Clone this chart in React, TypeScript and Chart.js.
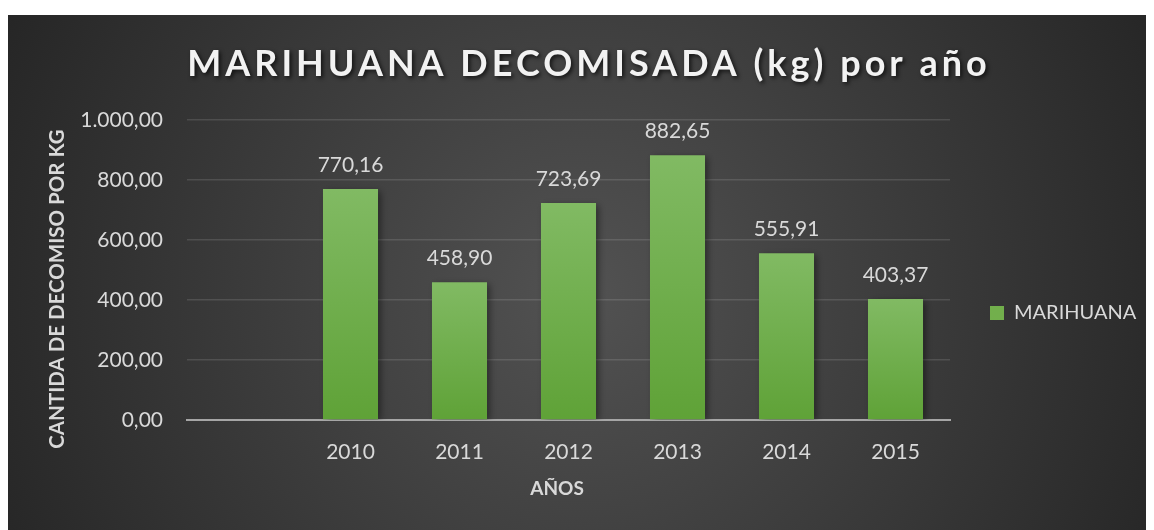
import { useEffect, useRef } from "react";
import { Chart, registerables } from "chart.js";

Chart.register(...registerables);

const categories = ["", "2010", "2011", "2012", "2013", "2014", "2015"];
const marihuana: (number | null)[] = [null, 770.16, 458.9, 723.69, 882.65, 555.91, 403.37];
const yMin = 0;
const yMax = 1000;
const yStep = 200;
const seriesName = "MARIHUANA";
const titleText = "MARIHUANA DECOMISADA (kg) por año";
const yTitleText = "CANTIDA DE DECOMISO POR KG";
const xTitleText = "AÑOS";

const FONT = "Lato";
const TEXT = "#d9d9d9";

const fmt = (v: number) =>
  v.toLocaleString("de-DE", { minimumFractionDigits: 2, maximumFractionDigits: 2 });

const backgroundPlugin = {
  id: "bg",
  beforeDraw(chart: any) {
    const { ctx, width, height } = chart;
    ctx.save();
    const g = ctx.createRadialGradient(575, 280, 0, 575, 280, 640);
    g.addColorStop(0, "#525252");
    g.addColorStop(1, "#262626");
    ctx.fillStyle = g;
    ctx.fillRect(0, 0, width, height);
    ctx.restore();
  },
};

const decorPlugin = {
  id: "decor",
  beforeDatasetsDraw(chart: any) {
    const ctx = chart.ctx;
    ctx.save();
    ctx.shadowColor = "rgba(0,0,0,0.45)";
    ctx.shadowBlur = 7;
    ctx.shadowOffsetX = 3;
    ctx.shadowOffsetY = 2;
  },
  afterDatasetsDraw(chart: any) {
    const ctx = chart.ctx;
    ctx.restore();
    const meta = chart.getDatasetMeta(0);
    ctx.save();
    ctx.fillStyle = TEXT;
    ctx.font = `21px ${FONT}`;
    ctx.textAlign = "center";
    ctx.textBaseline = "alphabetic";
    meta.data.forEach((el: any, i: number) => {
      const v = marihuana[i];
      if (v == null) return;
      ctx.fillText(fmt(v), el.x, el.y - 17);
    });
    ctx.restore();
  },
  afterDraw(chart: any) {
    const ctx = chart.ctx;
    ctx.save();
    ctx.font = `bold 36px ${FONT}`;
    (ctx as any).letterSpacing = "4px";
    ctx.textAlign = "center";
    ctx.textBaseline = "alphabetic";
    ctx.shadowColor = "rgba(0,0,0,0.7)";
    ctx.shadowBlur = 4;
    ctx.shadowOffsetX = 2;
    ctx.shadowOffsetY = 2;
    ctx.fillStyle = "#f2f2f2";
    ctx.fillText(titleText, 581, 61);
    ctx.restore();

    ctx.save();
    ctx.font = `bold 20.5px ${FONT}`;
    ctx.fillStyle = TEXT;
    ctx.textAlign = "center";
    ctx.textBaseline = "middle";
    ctx.translate(49, 274);
    ctx.rotate(-Math.PI / 2);
    ctx.fillText(yTitleText, 0, 0);
    ctx.restore();

    ctx.save();
    ctx.font = `bold 19px ${FONT}`;
    ctx.fillStyle = TEXT;
    ctx.textAlign = "center";
    ctx.textBaseline = "alphabetic";
    ctx.fillText(xTitleText, 549, 480);
    ctx.restore();
  },
};

export default function App() {
  const ref = useRef<HTMLCanvasElement | null>(null);

  useEffect(() => {
    if (!ref.current) return;
    Chart.defaults.font.family = FONT;
    const chart = new Chart(ref.current, {
      type: "bar",
      data: {
        labels: categories,
        datasets: [
          {
            label: seriesName,
            data: marihuana,
            barPercentage: 0.505,
            categoryPercentage: 1,
            backgroundColor: (c: any) => {
              const ch = c.chart;
              const { chartArea, scales } = ch;
              if (!chartArea || c.type !== "data" || c.raw == null) return "#72af4c";
              const top = scales.y.getPixelForValue(c.raw);
              const bottom = scales.y.getPixelForValue(0);
              const g = ch.ctx.createLinearGradient(0, top, 0, bottom);
              g.addColorStop(0, "#81ba63");
              g.addColorStop(1, "#5fa237");
              return g;
            },
            borderWidth: 0,
          },
        ],
      },
      options: {
        animation: false,
        responsive: false,
        maintainAspectRatio: false,
        layout: { padding: { top: 105, left: 0, right: 0, bottom: 24 } },
        plugins: {
          title: { display: false },
          tooltip: { enabled: false },
          legend: {
            display: true,
            position: "right",
            maxWidth: 196,
            labels: {
              boxWidth: 14,
              boxHeight: 14,
              padding: 40,
              color: TEXT,
              font: { family: FONT, size: 20 },
            },
          },
        },
        scales: {
          x: {
            grid: { display: false, drawTicks: false },
            border: { display: true, color: "#a6a6a6", width: 2 },
            ticks: { color: TEXT, font: { family: FONT, size: 21 }, padding: 20 },
            afterFit: (s: any) => {
              s.height = 86;
            },
          },
          y: {
            min: yMin,
            max: yMax,
            ticks: {
              stepSize: yStep,
              color: TEXT,
              font: { family: FONT, size: 21 },
              padding: 24,
              callback: (v: any) => fmt(Number(v)),
            },
            grid: {
              drawTicks: false,
              lineWidth: 1.5,
              color: (c: any) => (c.tick && c.tick.value === 0 ? "rgba(0,0,0,0)" : "rgba(255,255,255,0.12)"),
            },
            border: { display: false },
            afterFit: (s: any) => {
              s.width = 179;
            },
          },
        },
      },
      plugins: [backgroundPlugin, decorPlugin],
    } as any);
    return () => chart.destroy();
  }, []);

  return (
    <div style={{ position: "absolute", left: 8, top: 15, width: 1138, height: 515 }}>
      <canvas ref={ref} width={1138} height={515} style={{ display: "block" }} />
    </div>
  );
}
